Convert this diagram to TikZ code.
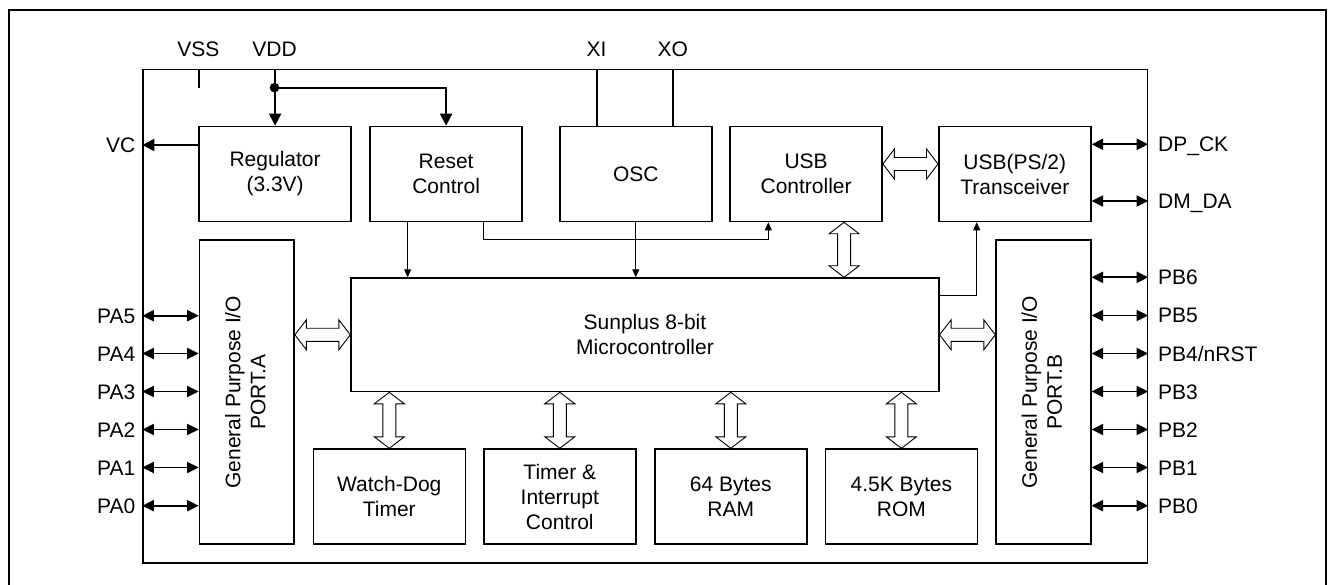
\documentclass[tikz,border=0pt]{standalone}
\usepackage{fontspec}
\setmainfont{Liberation Sans}
\usetikzlibrary{arrows.meta,calc}
\newcommand\fatH[2]{\draw[fat] let \p1=#1, \p2=#2 in
  (\x1,\y1) -- (\x1+11.5pt,\y1+15pt) -- (\x1+11.5pt,\y1+6.5pt) -- (\x2-11.5pt,\y1+6.5pt) --
  (\x2-11.5pt,\y1+15pt) -- (\x2,\y1) -- (\x2-11.5pt,\y1-15pt) -- (\x2-11.5pt,\y1-6.5pt) --
  (\x1+11.5pt,\y1-6.5pt) -- (\x1+11.5pt,\y1-15pt) -- cycle;}
\newcommand\fatV[2]{\draw[fat] let \p1=#1, \p2=#2 in
  (\x1,\y1) -- (\x1+15pt,\y1-11.5pt) -- (\x1+6.5pt,\y1-11.5pt) -- (\x1+6.5pt,\y2+11.5pt) --
  (\x1+15pt,\y2+11.5pt) -- (\x1,\y2) -- (\x1-15pt,\y2+11.5pt) -- (\x1-6.5pt,\y2+11.5pt) --
  (\x1-6.5pt,\y1-11.5pt) -- (\x1-15pt,\y1-11.5pt) -- cycle;}
\begin{document}
\begin{tikzpicture}[x=1pt,y=-1pt,
  txt/.style={font=\fontsize{21}{25}\selectfont},
  blk/.style={txt,draw,line width=1.6pt,minimum width=152pt,minimum height=95pt,
    anchor=north west,align=center,inner sep=0pt},
  port/.style={draw,line width=1.6pt,minimum width=94.6pt,minimum height=304pt,
    anchor=north west,inner sep=0pt},
  pinlab/.style={txt,inner sep=0pt,text height=15pt,text depth=0pt},
  pin/.style={line width=1.8pt,{Triangle[length=11.5pt,width=11pt]}-{Triangle[length=11.5pt,width=11pt]}},
  pwr/.style={line width=1.8pt,-{Triangle[length=12pt,width=12pt]}},
  thk/.style={line width=1.7pt},
  thinarr/.style={line width=1pt,-{Triangle[length=8pt,width=7pt]}},
  fat/.style={line width=0.9pt,fill=white}]
\useasboundingbox (0,0) rectangle (1328,585);
% outer frame
\draw[line width=2pt] (8.5,600) -- (8.5,10) -- (1326,10) -- (1326,600);
% chip outline
\node[draw,line width=1.5pt,minimum width=1004.4pt,minimum height=493pt,anchor=north west,inner sep=0pt] (chip) at (142.3,69) {};
% top blocks
\node[blk] (reg) at (198.3,125.7) {Regulator\\(3.3V)};
\node[blk] (rst) at (369.3,125.7) {Reset\\Control};
\node[blk] (osc) at (559,125.7) {OSC};
\node[blk] (usb) at (729.3,125.7) {USB\\Controller};
\node[blk] (trx) at (938,125.7) {USB(PS/2)\\Transceiver};
% MCU
\node[blk,minimum width=587.7pt,minimum height=113.4pt,text depth=0pt] (mcu) at (350.3,277.3) {Sunplus 8-bit\\Microcontroller};
% bottom blocks
\node[blk] (wd) at (312.5,448.3) {Watch-Dog\\Timer};
\node[blk] (ti) at (483,448.3) {Timer \&\\Interrupt\\Control};
\node[blk] (ram) at (654,448.3) {64 Bytes\\RAM};
\node[blk] (rom) at (824.6,448.3) {4.5K Bytes\\ROM};
% ports
\node[port] (pa) at (198.7,239.3) {};
\node[port] (pb) at (995.3,239.3) {};
\node[txt,rotate=90,align=center,inner sep=0pt] (paT) at ($(pa.center)+(-1.5,0)$) {General Purpose I/O\\PORT.A};
\node[txt,rotate=90,align=center,inner sep=0pt] (pbT) at ($(pb.center)+(-1.5,0)$) {General Purpose I/O\\PORT.B};
% top labels
\node[pinlab] (lVSS) at (198.3,49.3) {VSS};
\node[pinlab] (lVDD) at (274.5,49.3) {VDD};
\node[pinlab] (lXI) at (596.5,49.3) {XI};
\node[pinlab] (lXO) at (672.7,49.3) {XO};
% VSS stub
\coordinate (vssE) at (199,87.7);
\draw[thk] (chip.north -| vssE) -- (vssE);
% VDD
\coordinate (vddJ) at (274.5,87.7);
\draw[pwr] (chip.north -| reg.north) -- (reg.north);
\draw[pwr] (vddJ) -| (rst.north);
\fill (vddJ) circle (4.8);
% XI XO
\coordinate (xiX) at (597,0);
\coordinate (xoX) at (673,0);
\draw[thk] (chip.north -| xiX) -- (osc.north -| xiX);
\draw[thk] (chip.north -| xoX) -- (osc.north -| xoX);
% VC
\node[pinlab,anchor=east] (lVC) at (135.5,145) {VC};
\draw[pwr] (reg.west |- lVC) -- (chip.west |- lVC);
% DP/DM
\node[pinlab,anchor=west] (lDP) at (1158,144.3) {DP\_CK};
\node[pinlab,anchor=west] (lDM) at (1158,201) {DM\_DA};
\draw[pin] (trx.east |- lDP) -- (chip.east |- lDP);
\draw[pin] (trx.east |- lDM) -- (chip.east |- lDM);
% port A pins
\foreach \n/\y in {5/315.7,4/353.5,3/391.5,2/429.5,1/467.5,0/505.7}{
  \node[pinlab,anchor=east] (lPA\n) at (135.5,\y) {PA\n};
  \draw[pin] (chip.west |- lPA\n) -- (pa.west |- lPA\n);
}
% port B pins
\foreach \n/\t/\y in {6/PB6/277.3,5/PB5/315.5,4/PB4\slash nRST/353.5,3/PB3/391.5,2/PB2/429.5,1/PB1/467.5,0/PB0/505.7}{
  \node[pinlab,anchor=west] (lPB\n) at (1158,\y) {\t};
  \draw[pin] (pb.east |- lPB\n) -- (chip.east |- lPB\n);
}
% thin internal connectors
\coordinate (t1) at (407.6,0);
\draw[thinarr] (rst.south -| t1) -- (mcu.north -| t1);
\coordinate (t2) at (483.3,239.5);
\coordinate (t3) at (768.3,239.5);
\draw[thinarr] (rst.south -| t2) -- (t2) -- (t3) -- (usb.south -| t3);
\draw[thinarr] (osc.south) -- (mcu.north -| osc.south);
\coordinate (t4) at (976.7,295.7);
\draw[thinarr] (mcu.east |- t4) -- (t4) -- (trx.south -| t4);
% fat bus arrows
\fatH{(pa.east |- mcu.west)}{(mcu.west)}
\fatH{(mcu.east)}{(pb.west |- mcu.east)}
\fatH{($(usb.east)+(0,-10)$)}{($(trx.west)+(0,-10)$)}
\fatV{($(usb.south)+(38,0)$)}{($(mcu.north)+(199.5,0)$)}
\fatV{(mcu.south -| wd.north)}{(wd.north)}
\fatV{(mcu.south -| ti.north)}{(ti.north)}
\fatV{(mcu.south -| ram.north)}{(ram.north)}
\fatV{(mcu.south -| rom.north)}{(rom.north)}
\end{tikzpicture}
\end{document}
